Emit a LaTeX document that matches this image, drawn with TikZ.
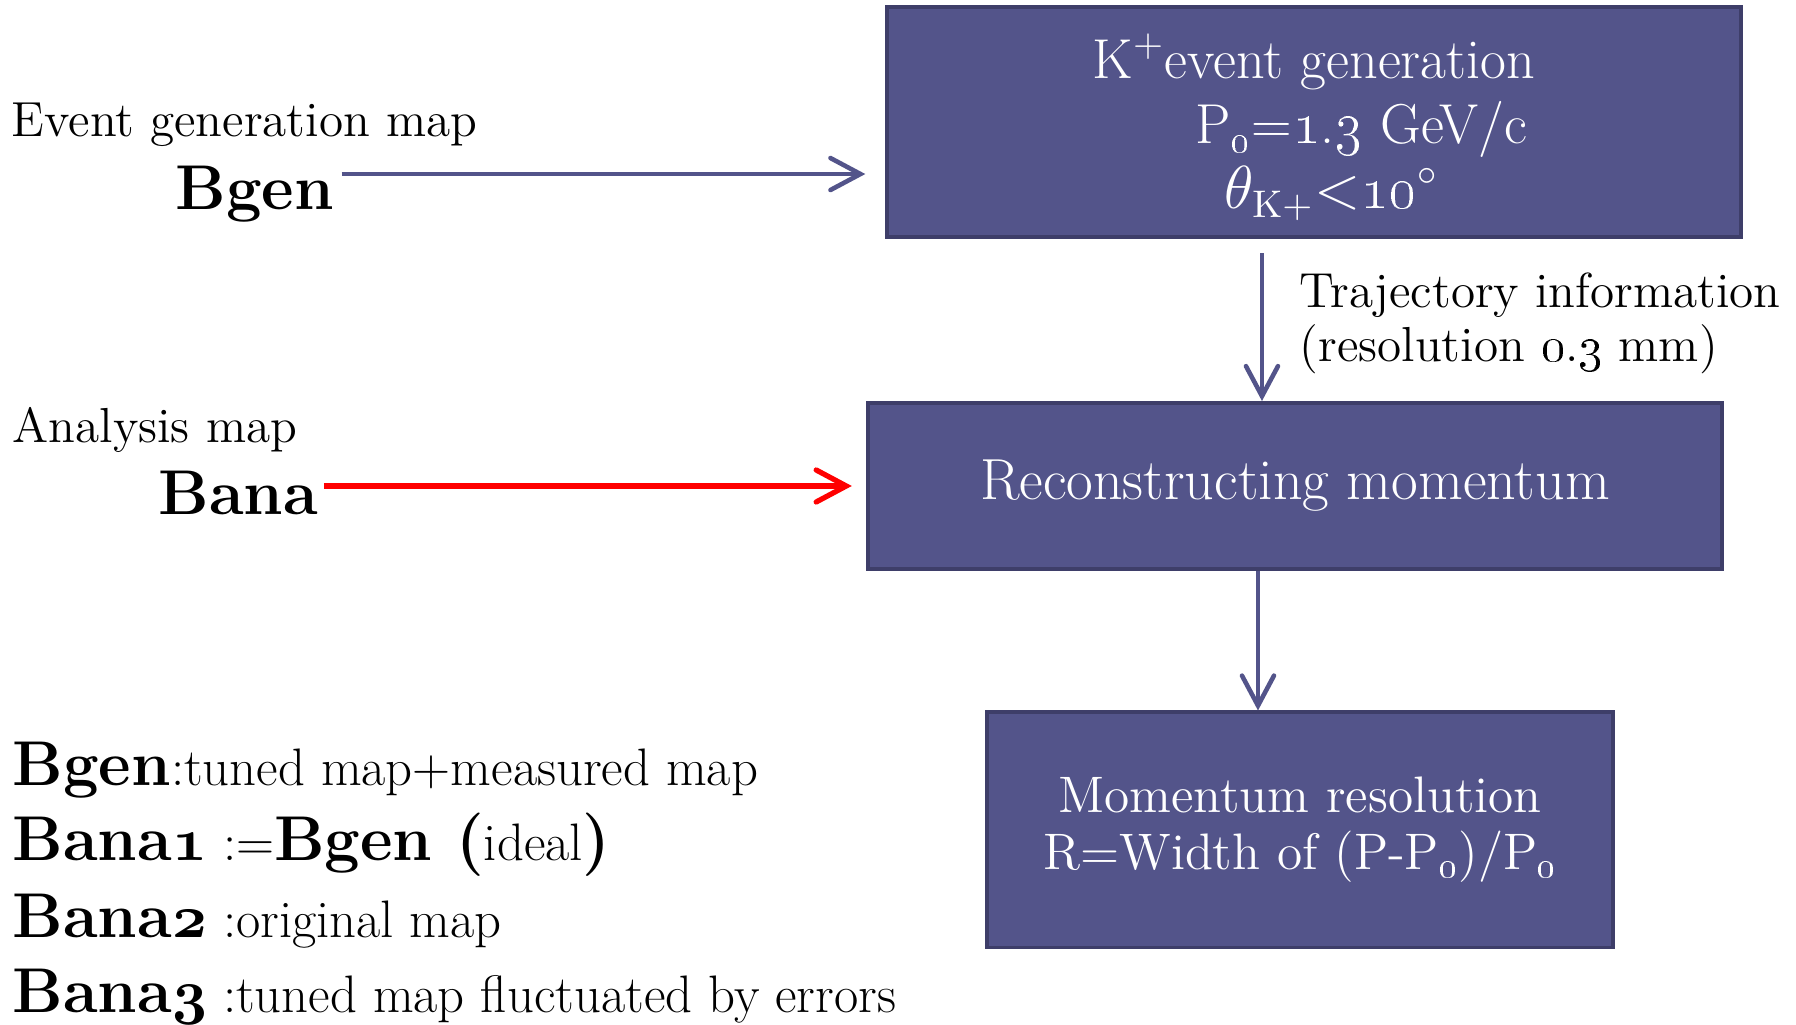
\documentclass[tikz,border=0pt]{standalone}
\usepackage{amsmath, amssymb}
\usepackage{tikz}
\usetikzlibrary{arrows.meta, positioning}
\definecolor{boxblue}{RGB}{83,84,138}
\definecolor{boxedge}{RGB}{62,62,105}
\definecolor{mapred}{RGB}{255,0,0}
\newcommand{\bnum}[1]{{\boldmath$\mathnormal{#1}$}}
\newcommand{\bigbf}{\fontsize{18}{20}\selectfont\bfseries}
\tikzstyle{block}=[rectangle, draw=boxedge, fill=boxblue, line width=1.1pt, text=white, align=center, inner sep=0pt]
\tikzstyle{flow}=[draw=boxblue, line width=1.3pt, -{Straight Barb[length=0.3cm, width=0.32cm, line cap=round]}]
\tikzstyle{redflow}=[flow, draw=mapred, line width=1.5pt]
\tikzstyle{maplabel}=[anchor=base west, inner sep=0pt, font=\fontsize{14}{16}\selectfont]
\tikzstyle{mapname}=[anchor=base west, inner sep=0pt, font=\bigbf]
\tikzstyle{legend}=[maplabel, font=\fontsize{15}{17}\selectfont]

\begin{document}
\begin{tikzpicture}[x=0.01cm, y=-0.01cm]
    \useasboundingbox (0,0) rectangle (1796,1025);

    % boxes
    \node[block, minimum width=8.53cm, minimum height=2.30cm,
      font=\fontsize{16}{18.4}\selectfont] (gen) at (1314,122)
      {\rule{0pt}{0.55cm}K\textsuperscript{+}event generation\\
       \hspace*{0.95cm}P\textsubscript{\oldstylenums{0}}=\oldstylenums{1}.\oldstylenums{3} GeV/c\\
       \hspace*{0.35cm}$\theta_{\mathrm{K+}}{<}$\oldstylenums{10}$^\circ$};
    \node[block, minimum width=8.54cm, minimum height=1.66cm,
      font=\fontsize{16.5}{18}\selectfont] (reco) at (1295,486) {Reconstructing momentum};
    \node[block, minimum width=6.25cm, minimum height=2.35cm,
      font=\fontsize{14.6}{16.2}\selectfont] (res) at (1300,830)
      {Momentum resolution\\
       R=Width of (P-P\textsubscript{\oldstylenums{0}})/P\textsubscript{\oldstylenums{0}}};

    % map labels
    \node[maplabel] (evmap) at (11,137) {Event generation map};
    \node[mapname] (bgen) at (175,210) {Bgen};
    \node[maplabel] (anmap) at (12,443) {Analysis map};
    \node[mapname] (bana) at (158,515) {Bana};
    \node[maplabel, align=left, font=\fontsize{14}{15.6}\selectfont] (traj) at (1299,362)
      {Trajectory information\\(resolution \oldstylenums{0}.\oldstylenums{3} mm)};

    % legend
    \node[legend] (l1) at (12,786) {{\bigbf Bgen}:tuned map+measured map};
    \node[legend] (l2) at (12,861) {{\bigbf Bana\bnum{1}} :={\bigbf Bgen (}ideal{\bigbf )}};
    \node[legend] (l3) at (12,938) {{\bigbf Bana\bnum{2}} :original map};
    \node[legend] (l4) at (12,1013) {{\bigbf Bana\bnum{3}} :tuned map fluctuated by errors};

    % arrows
    \coordinate (genin) at ([xshift=-0.2cm, yshift=-0.52cm]gen.west);
    \draw[flow] ([xshift=0.07cm]bgen.east |- genin) -- (genin);
    \draw[redflow] ([xshift=0.05cm]bana.east |- reco.west) -- ([xshift=-0.14cm]reco.west);
    \draw[flow] ([xshift=-0.52cm, yshift=-0.14cm]gen.south) -- ([xshift=-0.52cm]gen.south |- reco.north);
    \draw[flow] ([xshift=-0.37cm]reco.south) -- ([xshift=-0.37cm]reco.south |- res.north);
\end{tikzpicture}
\end{document}
